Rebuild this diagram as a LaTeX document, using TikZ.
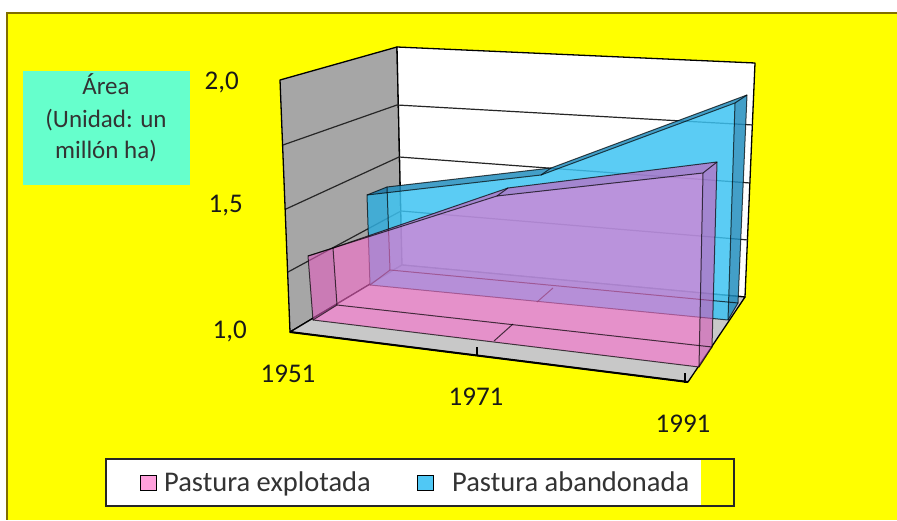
\documentclass[tikz,border=0pt]{standalone}
\usepackage{fontspec}
\setmainfont{Carlito}
\definecolor{bgyellow}{RGB}{255,255,0}
\definecolor{frameol}{RGB}{128,110,0}
\definecolor{aquabox}{RGB}{102,255,204}
\definecolor{wallgray}{RGB}{166,166,166}
\definecolor{floorgray}{RGB}{200,200,200}
\definecolor{bluebase}{RGB}{60,195,242}
\definecolor{bluedark}{RGB}{20,120,170}
\definecolor{pinkbase}{RGB}{250,110,205}
\definecolor{pinkdark}{RGB}{190,70,170}
\definecolor{legpink}{RGB}{255,160,220}
\definecolor{legblue}{RGB}{80,200,245}
\definecolor{txt}{RGB}{25,25,25}
\begin{document}
\begin{tikzpicture}[x=1pt,y=-1pt,
  axl/.style={font=\fontsize{27}{30}\selectfont, text=txt, inner sep=0pt},
  boxl/.style={font=\fontsize{25}{30}\selectfont, text=black!80, inner sep=0pt},
  legl/.style={font=\fontsize{28.5}{32}\selectfont, text=black!80, inner sep=0pt},
  wall/.style={draw=black, line width=1.3pt, line join=round},
  gridln/.style={draw=black!85, line width=1.2pt},
  edge/.style={draw=black, draw opacity=0.7, line width=1pt, line join=round},
  bfill/.style={fill=bluebase, fill opacity=0.6},
  bdark/.style={fill=bluedark, fill opacity=0.6},
  pfill/.style={fill=pinkbase, fill opacity=0.37},
  pdark/.style={fill=pinkdark, fill opacity=0.35}]
\useasboundingbox (0,0) rectangle (897,521);
\fill[white] (0,0) rectangle (897,521);
\fill[bgyellow] (7,13) rectangle (897,520);
\draw[frameol, line width=1.5pt] (897,13) -- (7,13) -- (7,520);

% unit box
\node[fill=aquabox, minimum width=167pt, minimum height=114pt, inner sep=0pt, anchor=north west] (unitbox) at (23,71) {};
\node[boxl, anchor=base] (u1) at (106,95) {Área};
\node[boxl, anchor=base] (u2) at (106,128) {(Unidad: un};
\node[boxl, anchor=base] (u3) at (106,159) {millón ha)};

% walls
\coordinate (FL0) at (290,332);
\coordinate (FR0) at (688,382);
\coordinate (BL0) at (402,265);
\coordinate (BR0) at (745,297);
\coordinate (FL1) at (280,80);
\coordinate (BL1) at (397,47);
\coordinate (BR1) at (755,63);
\filldraw[wall, fill=wallgray] (FL1) -- (BL1) -- (BL0) -- (FL0) -- cycle;
\filldraw[wall, fill=white] (BL1) -- (BR1) -- (BR0) -- (BL0) -- cycle;
\filldraw[wall, fill=floorgray] (FL0) -- (FR0) -- (BR0) -- (BL0) -- cycle;
\draw[black, line width=2pt] (FL0) -- (FR0);
% gridlines
\draw[gridln] (283,145) -- (397,105) -- (753,125);
\draw[gridln] (286,209) -- (399,157) -- (750,183);
\draw[gridln] (288,272) -- (401,211) -- (748,240);
% ticks
\draw[black, line width=1.2pt] (477,347) -- (477,356);
\draw[black, line width=1.2pt] (685,373) -- (685,383);

% blue prism
\coordinate (bFBL) at (370,285);
\coordinate (bFTL) at (367,195);
\coordinate (bFTM) at (541,175);
\coordinate (bFTR) at (735,103);
\coordinate (bFBR) at (728,320);
\coordinate (bFBM) at (537,302);
\coordinate (bBBL) at (390,270);
\coordinate (bBTL) at (387,187);
\coordinate (bBTM) at (551,168);
\coordinate (bBTR) at (747,95);
\coordinate (bBBR) at (738,303);
\coordinate (bBBM) at (553,288);
\fill[bfill] (bBBL) -- (bBTL) -- (bBTM) -- (bBTR) -- (bBBR) -- cycle;
\fill[bfill] (bFBL) -- (bFBR) -- (bBBR) -- (bBBL) -- cycle;
\fill[bdark] (bFBL) -- (bFTL) -- (bBTL) -- (bBBL) -- cycle;
\fill[bdark] (bFBR) -- (bFTR) -- (bBTR) -- (bBBR) -- cycle;
\fill[bdark] (bFTL) -- (bFTM) -- (bBTM) -- (bBTL) -- cycle;
\fill[bdark] (bFTM) -- (bFTR) -- (bBTR) -- (bBTM) -- cycle;
\fill[bfill] (bFBL) -- (bFTL) -- (bFTM) -- (bFTR) -- (bFBR) -- cycle;
\draw[edge] (bBBL) -- (bBTL) -- (bBTM) -- (bBTR) -- (bBBR) -- cycle;
\draw[edge] (bFBL) -- (bFTL) -- (bFTM) -- (bFTR) -- (bFBR) -- cycle;
\draw[edge] (bFBL) -- (bBBL) (bFTL) -- (bBTL) (bFTM) -- (bBTM) (bFTR) -- (bBTR) (bFBR) -- (bBBR) (bFBM) -- (bBBM);

% pink prism
\coordinate (pFBL) at (313,320);
\coordinate (pFTL) at (308,256);
\coordinate (pFTM) at (497,196);
\coordinate (pFTR) at (703,173);
\coordinate (pFBR) at (699,367);
\coordinate (pFBM) at (494,341);
\coordinate (pBBL) at (337,305);
\coordinate (pBTL) at (333,248);
\coordinate (pBTM) at (508,188);
\coordinate (pBTR) at (717,162);
\coordinate (pBBR) at (712,347);
\coordinate (pBBM) at (513,324);
\fill[pfill] (pBBL) -- (pBTL) -- (pBTM) -- (pBTR) -- (pBBR) -- cycle;
\fill[pfill] (pFBL) -- (pFBR) -- (pBBR) -- (pBBL) -- cycle;
\fill[pdark] (pFBL) -- (pFTL) -- (pBTL) -- (pBBL) -- cycle;
\fill[pdark] (pFBR) -- (pFTR) -- (pBTR) -- (pBBR) -- cycle;
\fill[pdark] (pFTL) -- (pFTM) -- (pBTM) -- (pBTL) -- cycle;
\fill[pdark] (pFTM) -- (pFTR) -- (pBTR) -- (pBTM) -- cycle;
\fill[pfill] (pFBL) -- (pFTL) -- (pFTM) -- (pFTR) -- (pFBR) -- cycle;
\draw[edge] (pBBL) -- (pBTL) -- (pBTM) -- (pBTR) -- (pBBR) -- cycle;
\draw[edge] (pFBL) -- (pFTL) -- (pFTM) -- (pFTR) -- (pFBR) -- cycle;
\draw[edge] (pFBL) -- (pBBL) (pFTL) -- (pBTL) (pFTM) -- (pBTM) (pFTR) -- (pBTR) (pFBR) -- (pBBR) (pFBM) -- (pBBM);

% axis labels
\node[axl, anchor=base east] (y20) at (239,90) {2,0};
\node[axl, anchor=base east] (y15) at (243,213) {1,5};
\node[axl, anchor=base east] (y10) at (247,338) {1,0};
\node[axl, anchor=base] (x51) at (288,382) {1951};
\node[axl, anchor=base] (x71) at (476,405) {1971};
\node[axl, anchor=base] (x91) at (683,432) {1991};

% legend
\fill[white] (106,459) rectangle (701,506);
\draw[black!85, line width=1.3pt] (106,459) rectangle (734,506);
\filldraw[fill=legpink, draw=black, line width=1pt] (140,475) rectangle (156,490);
\node[legl, anchor=base west] (leg1) at (164,491) {Pastura explotada};
\filldraw[fill=legblue, draw=black, line width=1pt] (417,475) rectangle (433,490);
\node[legl, anchor=base west] (leg2) at (452,491) {Pastura abandonada};
\end{tikzpicture}
\end{document}
